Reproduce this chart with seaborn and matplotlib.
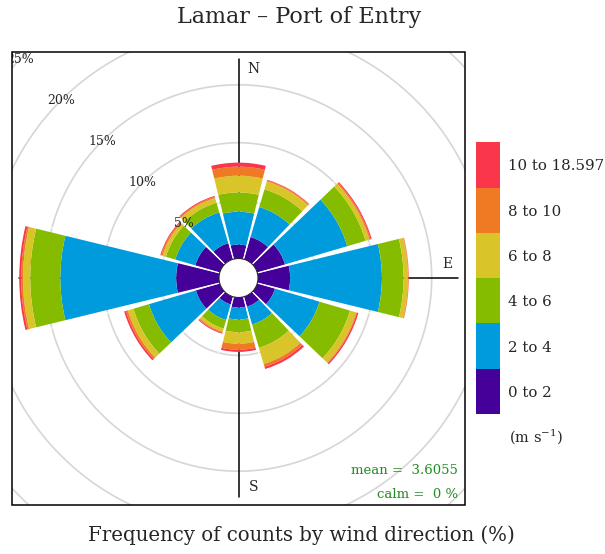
import numpy as np
import matplotlib.pyplot as plt
import seaborn as sns
from matplotlib.patches import Rectangle

# style first, then fonts (set_style resets font.family)
sns.set_style("white")
plt.rcParams['font.family'] = ['DejaVu Serif']
plt.rcParams['mathtext.fontset'] = 'dejavuserif'

# wind direction sectors (degrees from north)
directions = [0, 30, 60, 90, 120, 150, 180, 210, 240, 270, 300, 330]

# frequency of counts (%) per speed class, one value per sector
ws_0_2 = [1.20, 2.00, 2.50, 2.78, 1.60, 0.90, 0.87, 0.70, 2.15, 3.70, 2.20, 1.45]
ws_2_4 = [2.84, 2.70, 5.60, 7.92, 4.00, 1.60, 1.03, 1.40, 4.22, 10.00, 1.80, 2.77]
ws_4_6 = [1.67, 1.60, 1.65, 1.87, 2.75, 2.10, 1.10, 0.78, 1.40, 2.60, 0.85, 0.86]
ws_6_8 = [1.44, 0.70, 0.35, 0.38, 0.55, 1.45, 1.00, 0.27, 0.50, 0.63, 0.30, 0.43]
ws_8_10 = [0.78, 0.10, 0.10, 0.05, 0.08, 0.25, 0.52, 0.10, 0.18, 0.15, 0.12, 0.11]
ws_10_max = [0.35, 0.05, 0.10, 0.02, 0.12, 0.20, 0.18, 0.08, 0.15, 0.17, 0.08, 0.08]

speed_labels = ["0 to 2", "2 to 4", "4 to 6", "6 to 8", "8 to 10", "10 to 18.597"]
ring_levels = [5, 10, 15, 20, 25]
mean_ws = 3.6055
calm_pct = 0

colours = sns.color_palette(["#45009a", "#009bdc", "#86bc00",
                             "#d9c52a", "#f07a24", "#f9364a"])

freq = np.array([ws_0_2, ws_2_4, ws_4_6, ws_6_8, ws_8_10, ws_10_max])
cum = np.cumsum(freq, axis=0)
theta = np.deg2rad(directions)
max_r = cum[-1].max()

W, H = 605, 554
fig = plt.figure(figsize=(W / 100, H / 100), dpi=100)

# square panel (pixels from bottom-left)
px0, py0, pw = 12, 49, 453
fx0, fy0, fx1, fy1 = px0 / W, py0 / H, (px0 + pw) / W, (py0 + pw) / H

# polar axes centred in the panel, big enough to reach the corners
cx, cy, R = 238.5, 276, 322
px_per_pct, hole = 11.58, 19.5
ax = fig.add_axes([(cx - R) / W, (cy - R) / H, 2 * R / W, 2 * R / H], projection='polar')
ax.set_zorder(0)
ax.set_theta_zero_location('N')
ax.set_theta_direction(-1)
rorig = -hole / px_per_pct
ax.set_rorigin(rorig)
ax.set_rlim(0, (R - hole) / px_per_pct)
ax.set_xticks([])
ax.set_yticks([])
ax.grid(False)
ax.spines['polar'].set_visible(False)
ax.patch.set_visible(False)

# grey rings
tt = np.linspace(0, 2 * np.pi, 721)
for lev in ring_levels:
    ax.plot(tt, np.full_like(tt, lev), color='#d6d6d6', lw=1.2, zorder=1)

# axis cross
for ang in [0, 90, 180, 270]:
    ax.plot([np.deg2rad(ang)] * 2, [rorig, max_r], color='black', lw=1.1, zorder=1.5)

# stacked wedges
width = np.deg2rad(27.4)
for i in range(len(speed_labels)):
    ax.bar(theta, freq[i], width=width, bottom=cum[i] - freq[i],
           color=colours[i], linewidth=0, zorder=2)

# thin white gaps between sectors
n = len(directions)
for k in range(n):
    b = np.deg2rad(directions[k] + 15)
    reach = max(cum[-1][k], cum[-1][(k + 1) % n]) + 0.3
    ax.plot([b, b], [0, reach], color='white', lw=0.8, zorder=2.5)

# ring labels
for lev in ring_levels:
    ax.text(np.deg2rad(315), lev, f"{lev}%", ha='center', va='center',
            fontsize=9, zorder=3)

# compass labels
for lab, ang, off, z in [('N', 0, (11, 0), 3), ('E', 90, (0, 10), 3),
                         ('S', 180, (11, 0), 3), ('W', 270, (0, 10), 1.6)]:
    ax.annotate(lab, xy=(np.deg2rad(ang), 0.95 * max_r), xytext=off,
                textcoords='offset points', ha='center', va='center',
                fontsize=10, zorder=z, annotation_clip=False)

# white mask outside the square panel, then the panel border
for x, y, w, h in [(0, 0, fx0, 1), (fx1, 0, 1 - fx1, 1),
                   (fx0, fy1, fx1 - fx0, 1 - fy1), (fx0, 0, fx1 - fx0, fy0)]:
    fig.add_artist(Rectangle((x, y), w, h, transform=fig.transFigure,
                             fc='white', ec='none', zorder=1))
fig.add_artist(Rectangle((fx0, fy0), fx1 - fx0, fy1 - fy0, transform=fig.transFigure,
                         fill=False, ec='black', lw=1.1, zorder=1.5))

# colour key
lax = fig.add_axes([476 / W, 140 / H, 24 / W, 271.7 / H])
lax.set_zorder(2)
for i, c in enumerate(colours):
    lax.bar(0, 1, bottom=i, width=1, color=c, linewidth=0)
lax.set_xlim(-0.5, 0.5)
lax.set_ylim(0, len(speed_labels))
lax.set_xticks([])
lax.yaxis.tick_right()
lax.set_yticks(np.arange(len(speed_labels)) + 0.5)
lax.set_yticklabels(speed_labels)
lax.tick_params(axis='y', length=0, pad=6, labelsize=10.8)
for s in lax.spines.values():
    s.set_visible(False)
fig.text(509 / W, (H - 437) / H, "(m s$^{-1}$)", ha='left', va='center', fontsize=10.5)

# statistics
fig.text(458 / W, (H - 470) / H, f"mean =  {mean_ws}", ha='right', va='center',
         color='forestgreen', fontsize=9.5)
fig.text(458 / W, (H - 494) / H, f"calm =  {calm_pct} %", ha='right', va='center',
         color='forestgreen', fontsize=9.5)

# titles
fig.text(299 / W, (H - 17) / H, "Lamar – Port of Entry", ha='center', va='center', fontsize=16)
fig.text(301.5 / W, (H - 535) / H, "Frequency of counts by wind direction (%)",
         ha='center', va='center', fontsize=14.2)

fig.savefig('out.png', dpi=100)
